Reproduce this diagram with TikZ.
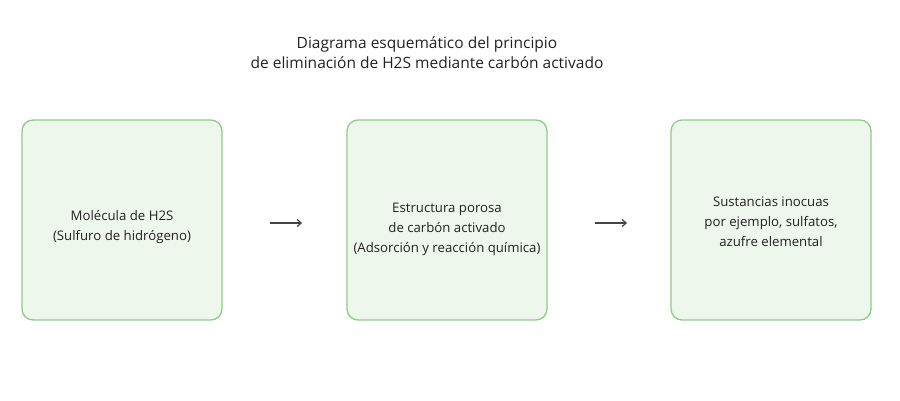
\documentclass[tikz,border=0pt]{standalone}
\usepackage{fontspec}
\setmainfont{Open Sans}
\usetikzlibrary{arrows.meta}
\usetikzlibrary{positioning}

\definecolor{boxline}{HTML}{8FCB8A}
\definecolor{boxfill}{HTML}{EEF7EC}
\definecolor{arrowgray}{HTML}{444444}
\definecolor{ink}{HTML}{222222}

\begin{document}
\begin{tikzpicture} [x=1pt, y=-1pt,
  stage/.style={draw=boxline, fill=boxfill, line width=1.3pt, rounded corners=11pt,
    minimum width=200pt, minimum height=200pt},
  stagetext/.style={align=center, text=ink, font=\fontsize{13.2}{20}\selectfont},
  flow/.style={arrowgray, line width=1.2pt, -{Straight Barb[length=4pt, width=7pt]}}]
\useasboundingbox (0,0) rectangle (900,400);

\node[align=center, text=ink, font=\fontsize{15.5}{20}\selectfont] (title) at (427,52.5) {Diagrama esquemático del principio\\de eliminación de H2S mediante carbón activado};

% the three stages
\node[stage] (mol) at (122,220) {};
\node[stage] (poro) at (447,220) {};
\node[stage] (inoc) at (771,220) {};

\node[stagetext] (moltxt) at (122,227.5) {Molécula de H2S\\(Sulfuro de hidrógeno)};
\node[stagetext] (porotxt) at (447,229) {Estructura porosa\\de carbón activado\\(Adsorción y reacción química)};
\node[stagetext] (inoctxt) at (771,222) {Sustancias inocuas\\por ejemplo, sulfatos,\\azufre elemental};

\draw[flow, shorten <=47.3pt, shorten >=44.3pt] ([yshift=-3pt]mol.east) -- ([yshift=-3pt]poro.west);
\draw[flow, shorten <=47.3pt, shorten >=43.3pt] ([yshift=-3pt]poro.east) -- ([yshift=-3pt]inoc.west);

\end{tikzpicture}
\end{document}
